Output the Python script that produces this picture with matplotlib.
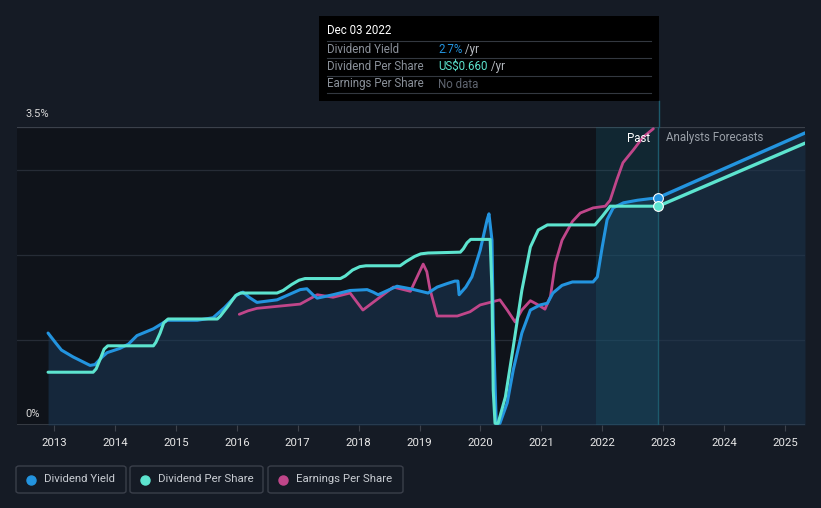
import matplotlib
matplotlib.use("Agg")
import matplotlib.pyplot as plt
from matplotlib.patches import FancyBboxPatch, Rectangle
from matplotlib.lines import Line2D

plt.rcParams['font.family'] = ['Roboto', 'DejaVu Sans']

# ---------------- data ----------------
yield_years = [2012.90, 2013.03, 2013.12, 2013.31, 2013.59, 2013.67, 2013.79, 2013.87, 2014.08,
               2014.22, 2014.36, 2014.63, 2014.86, 2015.35, 2015.61, 2015.80, 2016.00, 2016.10,
               2016.20, 2016.33, 2016.66, 2016.85, 2017.04, 2017.15, 2017.25, 2017.32, 2017.58,
               2017.86, 2018.14, 2018.24, 2018.32, 2018.63, 2018.85, 2019.14, 2019.29, 2019.45,
               2019.58, 2019.63, 2019.65, 2019.76, 2019.86, 2019.995, 2020.11, 2020.14, 2020.19,
               2020.21, 2020.26, 2020.32, 2020.44, 2020.54, 2020.68, 2020.82, 2020.98, 2021.10,
               2021.19, 2021.34, 2021.51, 2021.85, 2021.92, 2022.00, 2022.08, 2022.18, 2022.35,
               2022.58, 2022.92]
yield_vals = [1.08, 0.96, 0.88, 0.80, 0.70, 0.71, 0.80, 0.85, 0.90,
              0.95, 1.05, 1.13, 1.23, 1.23, 1.26, 1.38, 1.53, 1.56,
              1.50, 1.44, 1.47, 1.53, 1.59, 1.60, 1.53, 1.49, 1.53,
              1.58, 1.59, 1.56, 1.53, 1.63, 1.60, 1.55, 1.62, 1.66,
              1.69, 1.69, 1.53, 1.62, 1.74, 2.05, 2.41, 2.48, 2.17,
              1.19, 0.02, 0.02, 0.26, 0.65, 1.08, 1.35, 1.41, 1.43,
              1.55, 1.64, 1.68, 1.68, 1.74, 2.09, 2.41, 2.55, 2.61,
              2.64, 2.67]
yield_fc_years = [2022.92, 2025.33]
yield_fc_vals = [2.67, 3.43]

dps_years = [2012.90, 2013.64, 2013.69, 2013.76, 2013.82, 2013.88, 2014.63, 2014.67, 2014.74,
             2014.80, 2014.87, 2015.68, 2015.73, 2015.86, 2015.98, 2016.06, 2016.66, 2016.76,
             2016.90, 2017.02, 2017.12, 2017.70, 2017.78, 2017.90, 2018.02, 2018.12, 2018.68,
             2018.78, 2018.92, 2019.02, 2019.14, 2019.67, 2019.72, 2019.78, 2019.84, 2020.16,
             2020.19, 2020.21, 2020.24, 2020.29, 2020.41, 2020.54, 2020.68, 2020.82, 2020.95,
             2021.10, 2021.88, 2022.00, 2022.13, 2022.92]
dps_vals = [0.62, 0.62, 0.66, 0.78, 0.89, 0.93, 0.93, 0.97, 1.08,
            1.20, 1.245, 1.245, 1.28, 1.40, 1.52, 1.55, 1.55, 1.58,
            1.65, 1.70, 1.72, 1.72, 1.75, 1.82, 1.86, 1.87, 1.87,
            1.92, 1.98, 2.01, 2.02, 2.03, 2.07, 2.14, 2.18, 2.18,
            1.58, 0.41, 0.02, 0.02, 0.33, 0.92, 1.58, 2.09, 2.29,
            2.35, 2.35, 2.45, 2.57, 2.57]
dps_fc_years = [2022.92, 2025.33]
dps_fc_vals = [2.57, 3.31]

eps_years = [2016.04, 2016.18, 2016.33, 2017.04, 2017.32, 2017.58, 2017.86, 2018.07, 2018.57,
             2018.85, 2019.00, 2019.06, 2019.12, 2019.17, 2019.29, 2019.62, 2019.83, 2019.995,
             2020.32, 2020.44, 2020.57, 2020.68, 2020.82, 2020.95, 2021.06, 2021.15, 2021.23,
             2021.34, 2021.51, 2021.64, 2021.85, 2022.05, 2022.13, 2022.24, 2022.34, 2022.51,
             2022.67, 2022.84]
eps_vals = [1.30, 1.34, 1.37, 1.42, 1.53, 1.50, 1.55, 1.35, 1.62,
            1.57, 1.80, 1.89, 1.80, 1.60, 1.28, 1.28, 1.33, 1.41,
            1.47, 1.35, 1.21, 1.35, 1.46, 1.41, 1.36, 1.51, 1.90,
            2.17, 2.39, 2.49, 2.55, 2.57, 2.64, 2.88, 3.08, 3.23,
            3.38, 3.48]

year_ticks = list(range(2013, 2026))
today = 2022.92
past_start = 2021.90

# ---------------- style ----------------
W, H = 821, 508
BG = '#151b25'
C_YIELD = '#2394df'
C_DPS = '#5de4cf'
C_EPS = '#c0468a'

fig = plt.figure(figsize=(W / 100, H / 100), dpi=100, facecolor=BG)

def fx(px):
    return px / W

def fy(py):
    return 1 - py / H

ax_l, ax_r, ax_t, ax_b = 17, 805, 127, 425
ax = fig.add_axes([fx(ax_l), fy(ax_b), fx(ax_r - ax_l), (ax_b - ax_t) / H])
ax.set_facecolor('none')
ax.set_xlim(2012.39, 2025.33)
ax.set_ylim(0, 3.5)
for s in ax.spines.values():
    s.set_visible(False)
ax.set_yticks([])
ax.set_xticks(year_ticks)
ax.set_xticklabels([str(y) for y in year_ticks], color='#e8e8e8', fontsize=8.2)
ax.tick_params(axis='x', length=4, width=0.8, color='#3d424b', pad=5)

# darker past background
ax.axvspan(2012.39, today, color='#0f131a', zorder=0, lw=0)

# gridlines
for g in [1, 2, 3]:
    ax.axhline(g, color='#262c36', lw=0.9, zorder=1)
ax.axhline(3.5, color='#3b414b', lw=0.9, zorder=1)
ax.axhline(0, color='#3d424b', lw=1.2, zorder=1)

# area under dividend yield
ax.fill_between(yield_years, yield_vals, 0, color='#1b3c5c', alpha=0.5, lw=0, zorder=2)
ax.fill_between(yield_fc_years, yield_fc_vals, 0, color='#1b3c5c', alpha=0.4, lw=0, zorder=2)

# past highlight
ax.axvspan(past_start, today, color='#1a7088', alpha=0.22, lw=0, zorder=2)
ax.axvline(today, color='#1d5a6c', lw=1.0, zorder=2)

# lines
kw = dict(solid_capstyle='round', solid_joinstyle='round')
ax.plot(eps_years, eps_vals, color=C_EPS, lw=2.0, zorder=4, **kw)
ax.plot(yield_years, yield_vals, color=C_YIELD, lw=2.2, zorder=5, **kw)
ax.plot(dps_years, dps_vals, color=C_DPS, lw=2.2, zorder=6, **kw)
ax.plot(yield_fc_years, yield_fc_vals, color=C_YIELD, lw=2.4, zorder=5, **kw)
ax.plot(dps_fc_years, dps_fc_vals, color=C_DPS, lw=2.4, zorder=6, **kw)
ax.plot([today], [yield_fc_vals[0]], 'o', ms=7, mfc=C_YIELD, mec='white', mew=0.8, zorder=7)
ax.plot([today], [dps_fc_vals[0]], 'o', ms=7, mfc=C_DPS, mec='white', mew=0.8, zorder=7)

# labels in plot
fig.text(fx(650), fy(138), 'Past', color='white', fontsize=8.3, ha='right', va='center')
fig.text(fx(666), fy(138), 'Analysts Forecasts', color='#9aa0a8', fontsize=8.3, ha='left', va='center')
fig.text(fx(25), fy(114), '3.5%', color='#d8d8d8', fontsize=8, ha='left', va='center')
fig.text(fx(25), fy(414), '0%', color='#d8d8d8', fontsize=8, ha='left', va='center')

# vertical line up to tooltip
fig.add_artist(Line2D([fx(659), fx(659)], [fy(101), fy(ax_t)], color='#1d5a6c', lw=1.0))

# tooltip
fig.add_artist(Rectangle((fx(319), fy(101)), fx(659 - 319), (101 - 16) / H,
                         facecolor='black', edgecolor='none', transform=fig.transFigure))
fig.text(fx(327), fy(31), 'Dec 03 2022', color='white', fontsize=8.3, ha='left', va='center')
for ly in [41.3, 58, 76.3, 93.3]:
    fig.add_artist(Line2D([fx(327), fx(651)], [fy(ly), fy(ly)], color='#333840', lw=0.8))
rows = [('Dividend Yield', 49.5, '2.7%', C_YIELD, ' /yr'),
        ('Dividend Per Share', 66.5, 'US$0.660', C_DPS, ' /yr'),
        ('Earnings Per Share', 84, 'No data', '#5f6570', '')]
for label, ry, val, vc, suf in rows:
    fig.text(fx(327), fy(ry), label, color='#8a9099', fontsize=8.3, ha='left', va='center')
    t = fig.text(fx(438), fy(ry), val, color=vc, fontsize=8.3, ha='left', va='center')
    if suf:
        fig.canvas.draw()
        bb = t.get_window_extent()
        fig.text(bb.x1 / W, fy(ry), suf, color='#b8bcc2', fontsize=8.3, ha='left', va='center')

# legend
legend_items = [('Dividend Yield', C_YIELD, 16, 126),
                ('Dividend Per Share', C_DPS, 130, 263),
                ('Earnings Per Share', C_EPS, 268, 403)]
for name, col, x0, x1 in legend_items:
    box = FancyBboxPatch((fx(x0), fy(493)), fx(x1 - x0), (493 - 466) / H,
                         boxstyle='round,pad=0,rounding_size=0.004',
                         facecolor=BG, edgecolor='#3a3f4a', lw=1.0, transform=fig.transFigure)
    fig.add_artist(box)
    fig.add_artist(Line2D([fx(x0 + 15)], [fy(479.5)], marker='o', ms=6.5, color=col,
                          mec=col, transform=fig.transFigure))
    fig.text(fx(x0 + 28), fy(479.5), name, color='#c8ccd2', fontsize=8.2, ha='left', va='center')

fig.savefig('out.png', dpi=100, facecolor=BG)
